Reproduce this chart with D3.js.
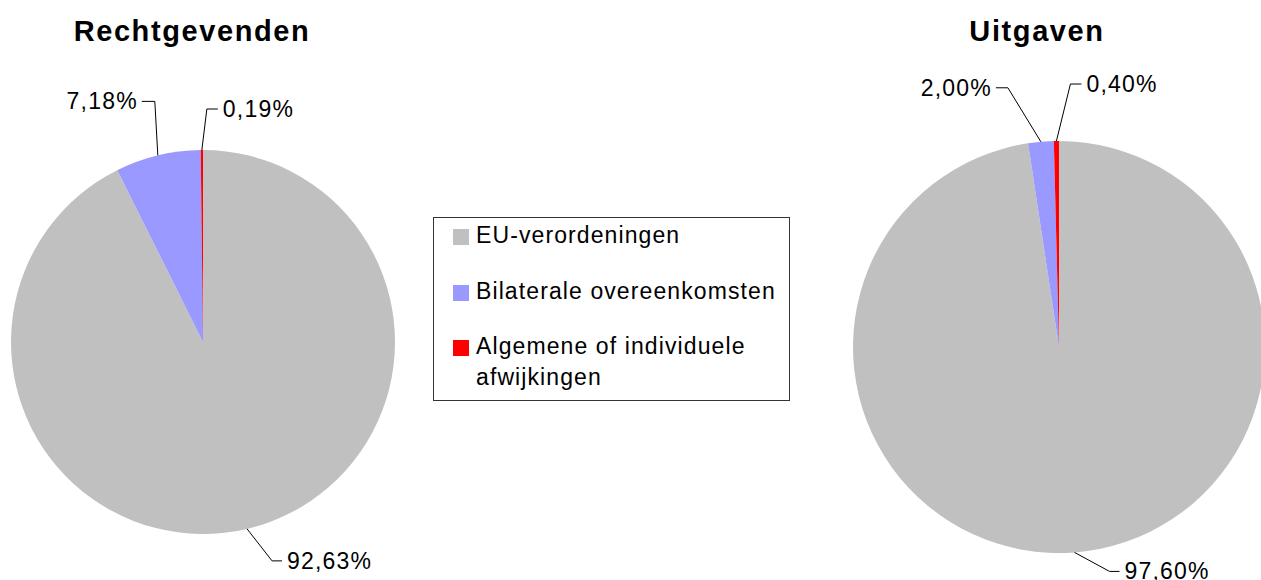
<!DOCTYPE html>
<html>
<head>
<meta charset="utf-8">
<script src="https://cdn.jsdelivr.net/npm/d3@7"></script>
<style>
  body { margin: 0; background: #fff; }
  text { font-family: "Liberation Sans", Arial, sans-serif; }
</style>
</head>
<body>
<div id="chart"></div>
<script>
const categories = ["EU-verordeningen", "Bilaterale overeenkomsten", "Algemene of individuele afwijkingen"];
const rechtgevenden = [92.63, 7.18, 0.19];
const uitgaven = [97.60, 2.00, 0.40];
const titles = ["Rechtgevenden", "Uitgaven"];
const colors = ["#c0c0c0", "#9999ff", "#ff0000"];

const width = 1261, height = 580;

// pie layouts (center, radius, title pos) and leader offsets per slice
const pies = [
  { title: titles[0], values: rechtgevenden, cx: 203, cy: 342, r: 192, tx: 192,
    leaders: [ { dx: 25, dy: 32, h: 10 }, { dx: -3, dy: -54, h: -13 }, { dx: 5, dy: -41, h: 11 } ] },
  { title: titles[1], values: uitgaven, cx: 1059, cy: 347, r: 206, tx: 1037,
    leaders: [ { dx: 35, dy: 19, h: 10 }, { dx: -33, dy: -54, h: -12 }, { dx: 14, dy: -57, h: 11 } ] }
];

const svg = d3.select("#chart").append("svg")
  .attr("width", width)
  .attr("height", height);

const pie = d3.pie().sort(null).value(d => d);
const fmt = v => v.toFixed(2).replace(".", ",") + "%";

pies.forEach(p => {
  svg.append("text")
    .attr("x", p.tx)
    .attr("y", 41)
    .attr("text-anchor", "middle")
    .attr("font-size", 29)
    .attr("font-weight", "bold")
    .attr("letter-spacing", "1.6px")
    .text(p.title);

  const g = svg.append("g").attr("transform", `translate(${p.cx},${p.cy})`);
  const arc = d3.arc().innerRadius(0).outerRadius(p.r);
  const arcs = pie(p.values);

  g.selectAll("path.slice")
    .data(arcs)
    .enter()
    .append("path")
    .attr("class", "slice")
    .attr("d", arc)
    .attr("fill", (d, i) => colors[i]);

  // leader lines + labels
  arcs.forEach((d, i) => {
    const a = (d.startAngle + d.endAngle) / 2;
    const ax = p.r * Math.sin(a), ay = -p.r * Math.cos(a);
    const l = p.leaders[i];
    const ex = ax + l.dx, ey = ay + l.dy;
    const hx = ex + l.h;
    g.append("path")
      .attr("d", `M${ax},${ay}L${ex},${ey}L${hx},${ey}`)
      .attr("fill", "none")
      .attr("stroke", "#000")
      .attr("stroke-width", 1);
    g.append("text")
      .attr("x", hx + (l.h > 0 ? 5 : -4))
      .attr("y", ey)
      .attr("dy", "0.35em")
      .attr("text-anchor", l.h > 0 ? "start" : "end")
      .attr("font-size", 23)
      .attr("letter-spacing", "1.2px")
      .text(fmt(d.data));
  });
});

// legend
const legend = svg.append("g").attr("class", "legend");
legend.append("rect")
  .attr("x", 433.5).attr("y", 217.5)
  .attr("width", 356).attr("height", 183)
  .attr("fill", "#fff")
  .attr("stroke", "#333")
  .attr("stroke-width", 1);

const legendY = [243, 299, 354];
const legendLines = [["EU-verordeningen"], ["Bilaterale overeenkomsten"], ["Algemene of individuele", "afwijkingen"]];
categories.forEach((c, i) => {
  legend.append("rect")
    .attr("x", 453).attr("y", legendY[i] - 14)
    .attr("width", 16).attr("height", 16)
    .attr("fill", colors[i]);
  const t = legend.append("text")
    .attr("x", 476).attr("y", legendY[i])
    .attr("font-size", 23)
    .attr("letter-spacing", "1.1px");
  legendLines[i].forEach((line, j) => {
    t.append("tspan").attr("x", 476).attr("dy", j === 0 ? 0 : 31).text(line);
  });
});
</script>
</body>
</html>
